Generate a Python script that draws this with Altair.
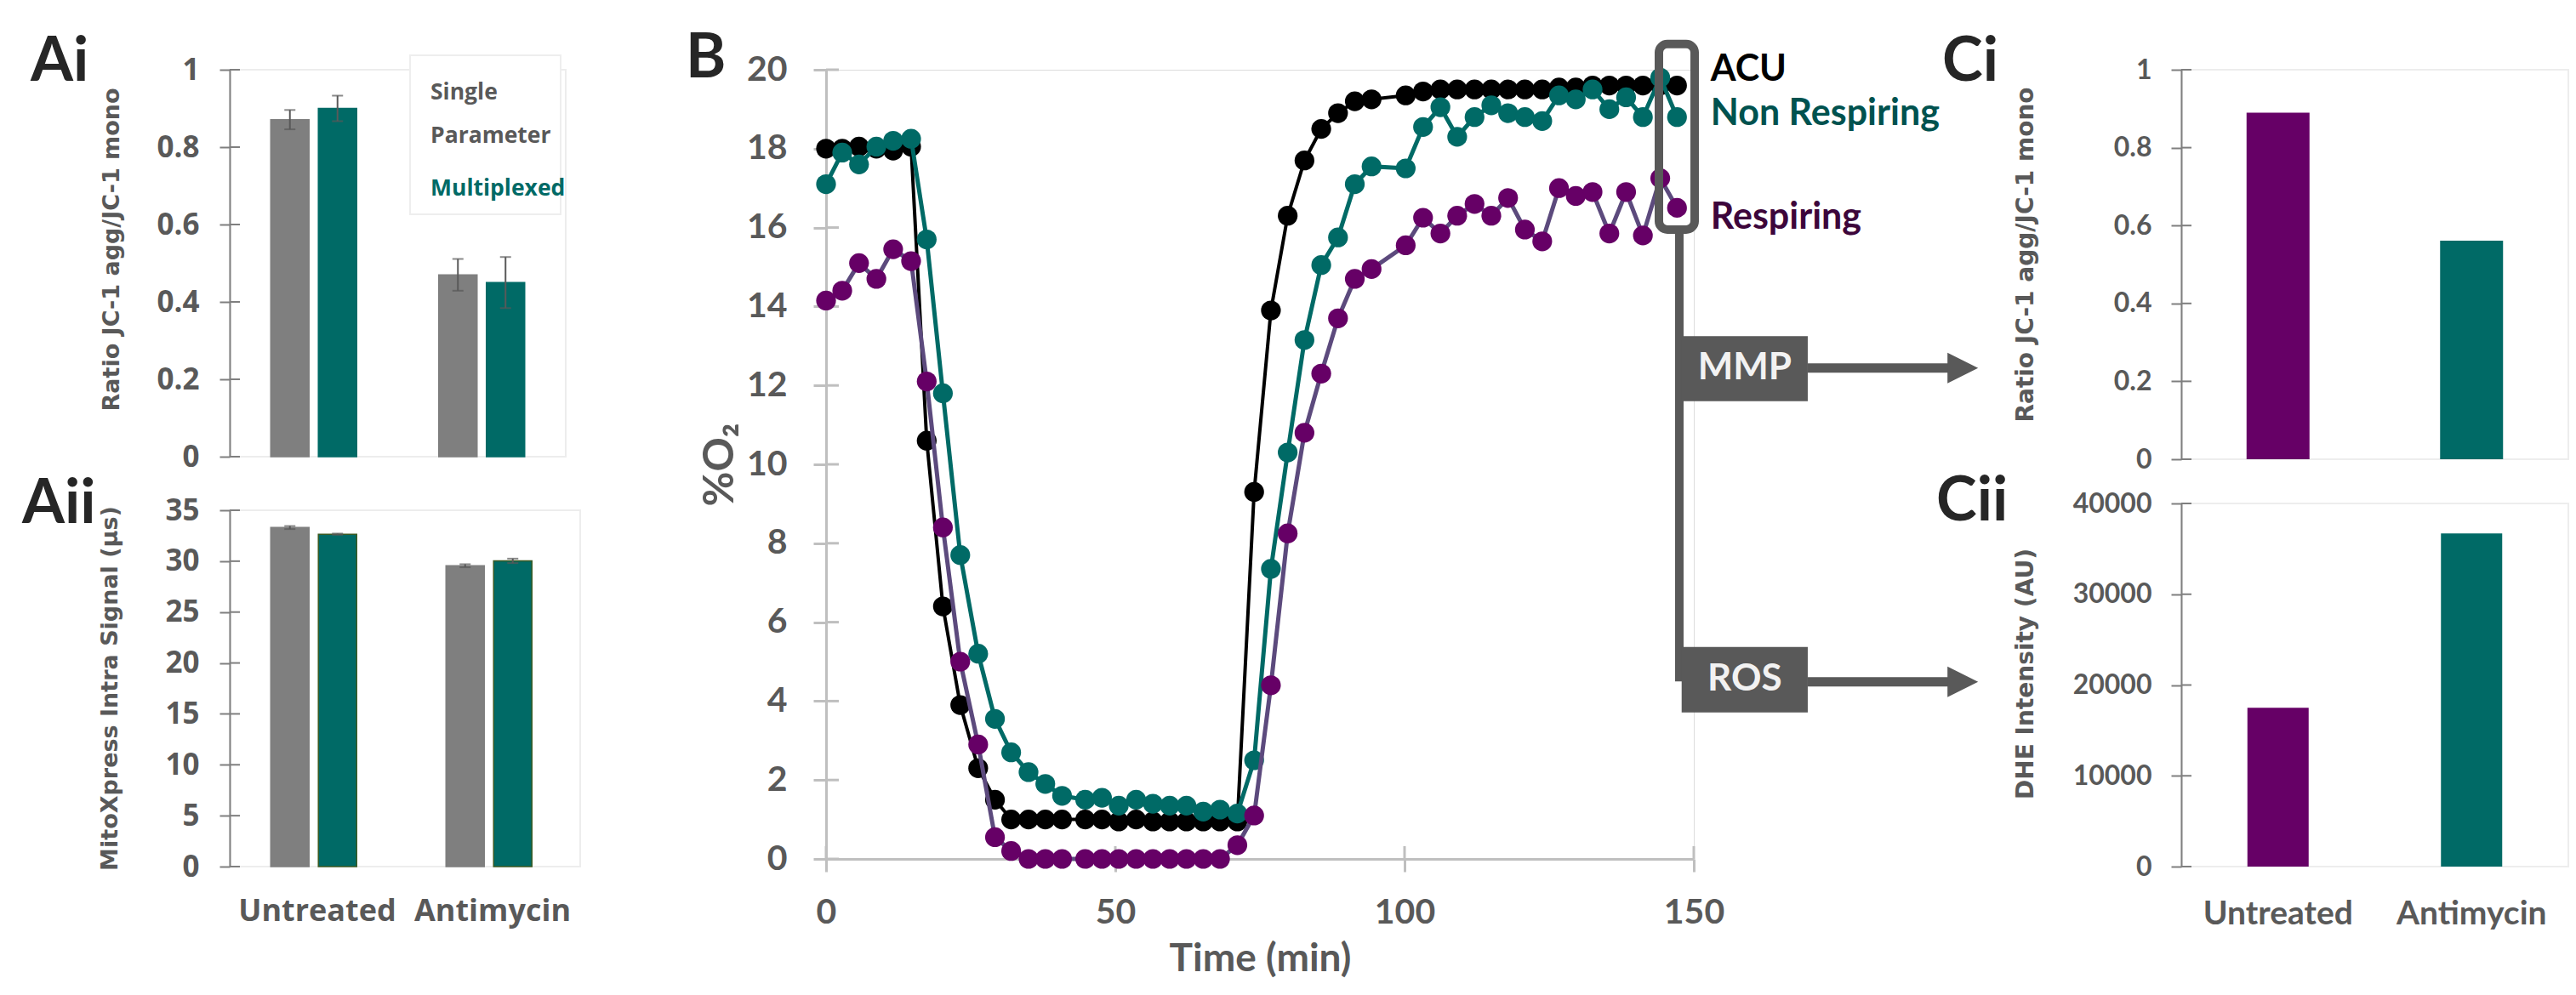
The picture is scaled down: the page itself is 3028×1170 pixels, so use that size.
import altair as alt
import pandas as pd

# ---------------- data ----------------
treatments = ["Untreated", "Antimycin"]
methods = ["Single Parameter", "Multiplexed"]

ai_single = [0.871, 0.470]
ai_single_err = [0.025, 0.041]
ai_multi = [0.900, 0.450]
ai_multi_err = [0.033, 0.066]
ai_ticks = [0, 0.2, 0.4, 0.6, 0.8, 1]

aii_single = [33.3, 29.55]
aii_single_err = [0.15, 0.15]
aii_multi = [32.65, 30.03]
aii_multi_err = [0.06, 0.22]
aii_ticks = [0, 5, 10, 15, 20, 25, 30, 35]

time_min = [0, 2.8, 5.7, 8.7, 11.6, 14.7, 17.4, 20.2, 23.2, 26.3, 29.2, 32.0, 35.0, 37.9, 40.8,
            44.8, 47.7, 50.6, 53.6, 56.5, 59.4, 62.3, 65.2, 68.1, 71.1, 74.0, 76.9, 79.8, 82.7,
            85.6, 88.5, 91.4, 94.3,
            100.2, 103.2, 106.2, 109.1, 112.1, 115.0, 117.9, 120.8, 123.8, 126.7, 129.6, 132.5,
            135.4, 138.3, 141.2, 144.2, 147.1]
acu = [18.0, 18.0, 18.05, 18.0, 17.95, 18.05, 10.6, 6.4, 3.9, 2.3, 1.5, 1.0, 1.0, 1.0, 1.0,
       1.0, 1.0, 0.95, 1.0, 0.95, 0.95, 0.95, 0.95, 0.95, 0.95, 9.3, 13.9, 16.3, 17.7, 18.5,
       18.9, 19.2, 19.25,
       19.35, 19.45, 19.5, 19.5, 19.5, 19.5, 19.5, 19.5, 19.5, 19.55, 19.55, 19.6, 19.6, 19.6,
       19.6, 19.6, 19.6]
non_respiring = [17.1, 17.9, 17.6, 18.05, 18.2, 18.25, 15.7, 11.8, 7.7, 5.2, 3.55, 2.7, 2.2, 1.9, 1.6,
                 1.5, 1.55, 1.35, 1.5, 1.4, 1.35, 1.35, 1.2, 1.25, 1.15, 2.5, 7.35, 10.3, 13.15,
                 15.05, 15.75, 17.1, 17.55,
                 17.5, 18.55, 19.05, 18.3, 18.8, 19.1, 18.9, 18.8, 18.7, 19.35, 19.25, 19.5, 19.0,
                 19.3, 18.8, 19.8, 18.8]
respiring = [14.15, 14.4, 15.1, 14.7, 15.45, 15.15, 12.1, 8.4, 5.0, 2.9, 0.55, 0.2, 0.0, 0.0, 0.0,
             0.0, 0.0, 0.0, 0.0, 0.0, 0.0, 0.0, 0.0, 0.0, 0.35, 1.1, 4.4, 8.25, 10.8, 12.3,
             13.7, 14.7, 14.95,
             15.55, 16.25, 15.85, 16.3, 16.6, 16.3, 16.75, 15.95, 15.65, 17.0, 16.8, 16.9, 15.85,
             16.9, 15.8, 17.25, 16.5]
series_names = ["ACU", "Non Respiring", "Respiring"]
b_xticks = [0, 50, 100, 150]
b_yticks = [0, 2, 4, 6, 8, 10, 12, 14, 16, 18, 20]

ci_ratio = [0.89, 0.561]
cii_dhe = [17500, 36700]
ci_ticks = [0, 0.2, 0.4, 0.6, 0.8, 1]
cii_ticks = [0, 10000, 20000, 30000, 40000]

# ---------------- style ----------------
GRAY = "#7F7F7F"
TEAL = "#006A66"
PURPLE = "#660066"
PURPLE_LINE = "#5C4A7D"
TXT = "#595959"
AXIS_A = "#7F7F7F"
AXIS_B = "#BFBFBF"
BOX = "#595959"
LABEL = "#262626"
BORDER = "#EDEDED"

one = pd.DataFrame({"k": [0]})


def txt(text, x, y, size, color, font="Lato", align="left", baseline="alphabetic"):
    return alt.Chart(one).mark_text(
        text=text, font=font, fontSize=size, fontWeight="bold", color=color,
        align=align, baseline=baseline
    ).encode(x=alt.value(x), y=alt.value(y))


def bars_frame(single, single_err, multi, multi_err, edge_multi):
    rows = []
    for i, t in enumerate(treatments):
        for m, v, e, f, s in ((methods[0], single[i], single_err[i], GRAY, GRAY),
                              (methods[1], multi[i], multi_err[i], TEAL, edge_multi)):
            rows.append({"treatment": t, "method": m, "value": v, "lo": v - e, "hi": v + e,
                         "fill": f, "edge": s})
    return pd.DataFrame(rows)


def a_panel(df, width, height, ymax, yvalues, fmt, ytitle, title_x, title_y,
            pad_in, pad_out, show_x, extra_layers):
    xs = alt.Scale(domain=treatments, paddingInner=0, paddingOuter=0)
    if show_x:
        xaxis = alt.Axis(title=None, labelFont="Open Sans", labelFontWeight="bold", labelFontSize=36,
                         labelColor=TXT, labelAngle=0, domain=False, ticks=False, tickSize=0,
                         labelPadding=63, labelBaseline="alphabetic", labelLimit=1000)
    else:
        xaxis = None
    xo = alt.XOffset("method:N", sort=methods,
                     scale=alt.Scale(domain=methods, paddingInner=pad_in, paddingOuter=pad_out))
    ys = alt.Scale(domain=[0, ymax], nice=False)
    yaxis = alt.Axis(values=yvalues, format=fmt, labelFont="Open Sans", labelFontWeight="bold",
                     labelFontSize=35, labelColor=TXT, labelPadding=24, domainColor=AXIS_A,
                     domainWidth=2, tickColor=AXIS_A, tickWidth=2, tickSize=12, grid=False,
                     title=ytitle, titleFont="DejaVu Sans", titleFontWeight="bold", titleFontSize=27,
                     titleColor=TXT, titleAngle=270, titleX=title_x, titleY=title_y,
                     titleAlign="center", titleBaseline="middle", titleLimit=2000)
    xe = alt.X("treatment:N", sort=treatments, scale=xs, axis=xaxis)
    base = alt.Chart(df)
    bars = base.mark_bar(strokeWidth=1.5).encode(
        x=xe, xOffset=xo,
        y=alt.Y("value:Q", scale=ys, axis=yaxis),
        color=alt.Color("fill:N", scale=None),
        stroke=alt.Stroke("edge:N", scale=None),
    )
    err = base.mark_rule(color=TXT, strokeWidth=2).encode(
        x=xe, xOffset=xo, y=alt.Y("lo:Q", scale=ys, axis=yaxis), y2="hi:Q")
    cap_lo = base.mark_tick(color=TXT, thickness=2, size=13).encode(
        x=xe, xOffset=xo, y=alt.Y("lo:Q", scale=ys, axis=yaxis))
    cap_hi = base.mark_tick(color=TXT, thickness=2, size=13).encode(
        x=xe, xOffset=xo, y=alt.Y("hi:Q", scale=ys, axis=yaxis))
    inner_ticks = alt.Chart(pd.DataFrame({"v": yvalues})).mark_rule(color=AXIS_A, strokeWidth=2).encode(
        y=alt.Y("v:Q", scale=ys, axis=yaxis), x=alt.value(0), x2=alt.value(12))
    return alt.layer(bars, err, cap_lo, cap_hi, inner_ticks, *extra_layers).properties(
        width=width, height=height, view=alt.ViewBackground(stroke=BORDER, strokeWidth=2))


# ---------------- panel Ai ----------------
ai_df = bars_frame(ai_single, ai_single_err, ai_multi, ai_multi_err, TEAL)
legend_box = alt.Chart(one).mark_rect(fill="white", stroke="#EEEEEE", strokeWidth=2).encode(
    x=alt.value(212), x2=alt.value(389), y=alt.value(-17), y2=alt.value(170))
anchor = alt.Chart(one).mark_rect(opacity=0).encode(
    x=alt.value(-261), x2=alt.value(-260), y=alt.value(-73), y2=alt.value(-72))
ai_extra = [
    legend_box,
    txt("Single", 236, 35, 26.5, TXT, font="Open Sans"),
    txt("Parameter", 236, 86, 26.5, TXT, font="Open Sans"),
    txt("Multiplexed", 236, 148, 26.5, TEAL, font="Open Sans"),
    txt("Ai", -234, 13, 72, LABEL),
    anchor,
]
ai_chart = a_panel(ai_df, 395, 455, 1, ai_ticks, ".1~f",
                   "Ratio JC-1 agg/JC-1 mono", -139, 211, 0.196, 0.862, False, ai_extra)

# ---------------- panel Aii ----------------
aii_df = bars_frame(aii_single, aii_single_err, aii_multi, aii_multi_err, "#3B5A22")
aii_extra = [txt("Aii", -244, 15, 72, LABEL)]
aii_chart = a_panel(aii_df, 412, 419, 35, aii_ticks, "d",
                    "MitoXpress Intra Signal (µs)", -141, 209, 0.186, 0.838, True, aii_extra)

# ---------------- panel B ----------------
b_df = pd.DataFrame({
    "time": time_min * 3,
    "o2": acu + non_respiring + respiring,
    "series": sum([[s] * len(time_min) for s in series_names], []),
})
bx = alt.Scale(domain=[0, 150], nice=False)
by = alt.Scale(domain=[0, 20], nice=False)
bx_axis = alt.Axis(values=b_xticks, title="Time (min)", labelFont="Lato", labelFontWeight="bold",
                   labelFontSize=41, labelColor=TXT, labelFlush=False, labelPadding=60,
                   labelBaseline="alphabetic", domainColor=AXIS_B, domainWidth=3, tickColor=AXIS_B,
                   tickWidth=3, tickSize=15, grid=False, titleFont="Lato", titleFontWeight="bold",
                   titleFontSize=46, titleColor=TXT, titleX=510, titleY=131, titleAlign="center",
                   titleBaseline="alphabetic", titleLimit=2000)
by_axis = alt.Axis(values=b_yticks, title="%O₂", labelFont="Lato",
                   labelFontWeight="bold", labelFontSize=41, labelColor=TXT, labelPadding=31,
                   domainColor=AXIS_B, domainWidth=3, tickColor=AXIS_B, tickWidth=3, tickSize=15,
                   grid=False, titleFont="Lato", titleFontWeight="bold", titleFontSize=50,
                   titleColor=TXT, titleAngle=270, titleX=-125, titleY=464, titleAlign="center",
                   titleBaseline="middle", titleLimit=2000)


def BX(field):
    return alt.X(field, scale=bx, axis=bx_axis)


def BY(field):
    return alt.Y(field, scale=by, axis=by_axis)


b_layers = [
    alt.Chart(pd.DataFrame({"v": b_yticks})).mark_rule(color=AXIS_B, strokeWidth=3).encode(
        y=BY("v:Q"), x=alt.value(0), x2=alt.value(15)),
    alt.Chart(pd.DataFrame({"v": b_xticks})).mark_rule(color=AXIS_B, strokeWidth=3).encode(
        x=BX("v:Q"), y=alt.value(928), y2=alt.value(913)),
]
styles = [("ACU", "#000000", "#000000", 4), ("Non Respiring", TEAL, TEAL, 5),
          ("Respiring", PURPLE_LINE, PURPLE, 5)]
for name, lc, pc, lw in styles:
    d = b_df[b_df["series"] == name]
    base = alt.Chart(d)
    b_layers.append(base.mark_line(color=lc, strokeWidth=lw).encode(x=BX("time:Q"), y=BY("o2:Q")))
    b_layers.append(base.mark_circle(color=pc, size=540, opacity=1).encode(x=BX("time:Q"), y=BY("o2:Q")))

# annotation geometry in data units of panel B
bracket = pd.DataFrame({"x1": [143.97], "x2": [150.15], "y1": [20.65], "y2": [15.95]})
connector = pd.DataFrame({"x": [147.5], "y1": [15.95], "y2": [4.5]})
boxes = pd.DataFrame({"x1": [147.9, 147.9], "x2": [169.7, 169.7], "y1": [13.25, 5.37],
                      "y2": [11.6, 3.71], "label": ["MMP", "ROS"], "xm": [158.8, 158.8],
                      "ym": [12.43, 4.54]})
arrows = pd.DataFrame({"x1": [169.7, 169.7], "x2": [194.1, 194.1], "y": [12.44, 4.49],
                       "xh": [196.5, 196.5]})
series_labels = pd.DataFrame({"x": [152.9, 152.9, 152.9], "y": [19.72, 18.6, 15.97],
                              "label": ["ACU", "Non Respiring", "Respiring"],
                              "color": ["#000000", "#00524F", "#3D063B"]})

b_layers += [
    alt.Chart(bracket).mark_rect(fillOpacity=0, stroke=BOX, strokeWidth=10, cornerRadius=10).encode(
        x=BX("x1:Q"), x2="x2:Q", y=BY("y1:Q"), y2="y2:Q"),
    alt.Chart(connector).mark_rule(color=BOX, strokeWidth=10).encode(
        x=BX("x:Q"), y=BY("y1:Q"), y2="y2:Q"),
    alt.Chart(boxes).mark_rect(color=BOX).encode(
        x=BX("x1:Q"), x2="x2:Q", y=BY("y1:Q"), y2="y2:Q"),
    alt.Chart(boxes).mark_text(font="Lato", fontWeight="bold", fontSize=44, color="#F2F2F2",
                               align="center", baseline="middle").encode(
        x=BX("xm:Q"), y=BY("ym:Q"), text="label:N"),
    alt.Chart(arrows).mark_rule(color=BOX, strokeWidth=11).encode(
        x=BX("x1:Q"), x2="x2:Q", y=BY("y:Q")),
    alt.Chart(arrows).mark_point(shape="M-1,-1L1,0L-1,1Z", filled=True, size=1296, color=BOX,
                                 opacity=1).encode(x=BX("xh:Q"), y=BY("y:Q")),
    alt.Chart(series_labels).mark_text(font="Lato", fontWeight="bold", fontSize=43, align="left",
                                       baseline="alphabetic").encode(
        x=BX("x:Q"), y=BY("y:Q"), text="label:N", color=alt.Color("color:N", scale=None)),
    txt("B", -165, 9, 72, LABEL),
]
b_chart = alt.layer(*b_layers).properties(width=1020, height=928)

# ---------------- panels Ci / Cii ----------------
c_df = pd.DataFrame({"treatment": treatments, "ratio": ci_ratio, "dhe": cii_dhe,
                     "fill": [PURPLE, TEAL]})
cx = alt.Scale(domain=treatments, paddingInner=0, paddingOuter=0)


def c_axis(values, fmt, title, title_y):
    return alt.Axis(values=values, format=fmt, labelFont="Lato", labelFontWeight="bold", labelFontSize=32,
                    labelColor=TXT, labelPadding=23, domainColor=AXIS_A, domainWidth=2,
                    tickColor=AXIS_A, tickWidth=2, tickSize=12, grid=False, title=title,
                    titleFont="DejaVu Sans", titleFontWeight="bold", titleFontSize=28, titleColor=TXT,
                    titleAngle=270, titleX=-183, titleY=title_y, titleAlign="center",
                    titleBaseline="middle", titleLimit=2000)


ci_scale = alt.Scale(domain=[0, 1], nice=False)
ci_axis = c_axis(ci_ticks, ".1~f", "Ratio JC-1 agg/JC-1 mono", 217)
ci_chart = alt.layer(
    alt.Chart(c_df).mark_bar(size=74).encode(
        x=alt.X("treatment:N", sort=treatments, scale=cx, axis=None),
        y=alt.Y("ratio:Q", scale=ci_scale, axis=ci_axis),
        color=alt.Color("fill:N", scale=None)),
    alt.Chart(pd.DataFrame({"v": ci_ticks})).mark_rule(color=AXIS_A, strokeWidth=2).encode(
        y=alt.Y("v:Q", scale=ci_scale, axis=ci_axis), x=alt.value(0), x2=alt.value(12)),
    txt("Ci", -281, 13, 72, LABEL),
).properties(width=455, height=458, view=alt.ViewBackground(stroke=BORDER, strokeWidth=2))

cii_scale = alt.Scale(domain=[0, 40000], nice=False)
cii_axis = c_axis(cii_ticks, "d", "DHE Intensity (AU)", 200)
cii_xaxis = alt.Axis(title=None, labelFont="Lato", labelFontWeight="bold", labelFontSize=39,
                     labelColor=TXT, labelAngle=0, domain=False, ticks=False, tickSize=0,
                     labelPadding=67, labelBaseline="alphabetic", labelLimit=1000)
cii_chart = alt.layer(
    alt.Chart(c_df).mark_bar(size=72).encode(
        x=alt.X("treatment:N", sort=treatments, scale=cx, axis=cii_xaxis),
        y=alt.Y("dhe:Q", scale=cii_scale, axis=cii_axis),
        color=alt.Color("fill:N", scale=None)),
    alt.Chart(pd.DataFrame({"v": cii_ticks})).mark_rule(color=AXIS_A, strokeWidth=2).encode(
        y=alt.Y("v:Q", scale=cii_scale, axis=cii_axis), x=alt.value(0), x2=alt.value(12)),
    txt("Cii", -288, 20, 72, LABEL),
).properties(width=455, height=427, view=alt.ViewBackground(stroke=BORDER, strokeWidth=2))

# ---------------- layout ----------------
# with flush bounds nested concat groups count as zero width, so spacing = offset of left edges
col_a = alt.vconcat(ai_chart, aii_chart, spacing=63, bounds="flush")
col_c = alt.vconcat(ci_chart, cii_chart, spacing=52, bounds="flush")
inner = alt.hconcat(col_a, b_chart, spacing=701, bounds="flush")
chart = alt.hconcat(inner, col_c, spacing=2294, bounds="flush").properties(
    padding=0, background="white"
).configure_view(stroke=None).configure(font="Lato")

chart.save("out.html", embed_options={"renderer": "svg", "actions": False})
